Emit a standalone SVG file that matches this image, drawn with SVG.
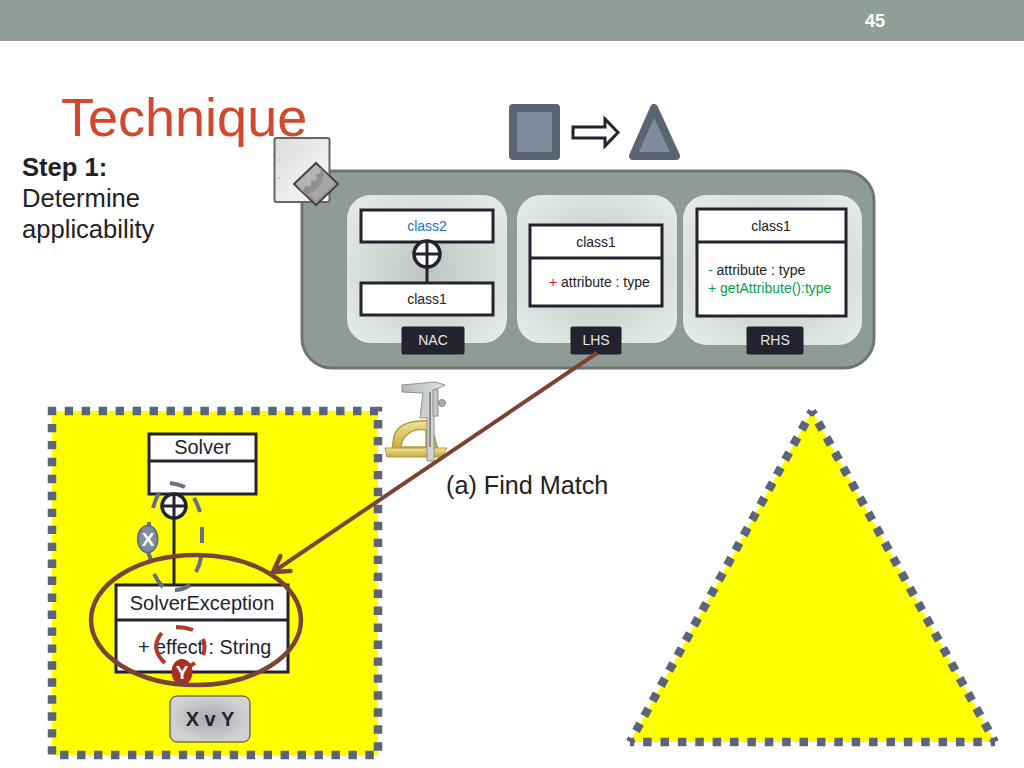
<svg xmlns="http://www.w3.org/2000/svg" width="1024" height="768" viewBox="0 0 1024 768">
<style>
text{font-family:"Liberation Sans",Arial,sans-serif;fill:#222}
.uml{fill:#fff;stroke:#23232f;stroke-width:3}
.t12{font-size:14px;text-anchor:middle}
.panel{fill:url(#pg)}
.tag{fill:#23232f;stroke:#23232f}
.tagt{font-size:14px;fill:#e8e8e8;text-anchor:middle}
.big{font-size:20px;fill:#23232f}
.dot{fill:#fff;stroke:#23232f;stroke-width:3.5}
.ln{stroke:#23232f;stroke-width:3;fill:none}
.dash{stroke:#5b6478;stroke-width:8.5;fill:none;stroke-dasharray:8.5 8.69;stroke-dashoffset:4.25}
.gy{fill:none;stroke:#667082;stroke-width:4}
.rd{fill:none;stroke:#b03a2a;stroke-width:4}
</style>
<defs>
<radialGradient id="pg" cx=".5" cy=".5" r=".65"><stop offset="0" stop-color="#bcc6c0"/><stop offset="1" stop-color="#e6ebe8"/></radialGradient>
<linearGradient id="paper" x1="0" x2="1" y1="0" y2="1"><stop offset="0" stop-color="#dcdcdc"/><stop offset="1" stop-color="#fafafa"/></linearGradient>
<radialGradient id="btn"><stop offset="0" stop-color="#a9a9ad"/><stop offset="1" stop-color="#d2d2d4"/></radialGradient>
<linearGradient id="gold" x1="0" x2="0" y1="0" y2="1"><stop offset="0" stop-color="#efe39a"/><stop offset="1" stop-color="#c4a93c"/></linearGradient>
<linearGradient id="steel" x1="0" x2="1" y1="0" y2="0"><stop offset="0" stop-color="#b5b9b8"/><stop offset="1" stop-color="#dfe2e2"/></linearGradient>
<marker id="ah" markerUnits="userSpaceOnUse" markerWidth="22" markerHeight="24" refX="18" refY="12" orient="auto"><path d="M3 3L18 12L3 21" fill="none" stroke="#7a4434" stroke-width="4.5" stroke-linecap="round"/></marker>
</defs>

<g id="header"><rect width="1024" height="41" fill="#929f98"/><text x="875" y="27" font-size="18" font-weight="bold" text-anchor="middle" style="fill:#fff">45</text></g>
<g id="title"><text x="61" y="136" font-size="54" style="fill:#d0492f">Technique</text></g>
<g id="step"><text x="22" y="176" font-size="25.600" font-weight="bold">Step 1:</text><text x="22" y="207" font-size="25.600">Determine</text><text x="22" y="238" font-size="25.600">applicability</text></g>

<g id="main-panel"><rect x="302" y="171" width="572" height="197" rx="30" fill="#8e9c95" stroke="#6c7670" stroke-width="3"/></g>

<g id="doc-icon">
<rect x="274.500" y="138" width="55" height="64" rx="2" fill="url(#paper)" stroke="#666" stroke-width="2"/>
<circle cx="279" cy="160" r="1" fill="#bbb"/><circle cx="279" cy="178" r="1" fill="#bbb"/>
<path d="M316 163L338 184L316 205L294 184Z" fill="#b4b4b4" stroke="#444" stroke-width="2"/>
<path d="M320 167L321 173L316 175L317 180L311 181L311 186L305 186L303 191L298 188L316 203L336 184Z" fill="#8f8f8f"/>
<path d="M324 172C323 182 318 190 309 194L316 201L335 184Z" fill="#a6a6a6"/>
</g>

<g id="shape-rect"><rect x="513" y="108" width="43" height="48" fill="#7f8c9e" stroke="#5b6472" stroke-width="8" stroke-linejoin="round"/></g>
<g id="shape-arrow"><path d="M573 127H605V119L618 132.500L605 146V138H573Z" fill="#fff" stroke="#23232f" stroke-width="3"/></g>
<g id="shape-tri"><path d="M654 108L676 156H633Z" fill="#7f8c9e" stroke="#5b6472" stroke-width="8" stroke-linejoin="round"/></g>

<g id="nac">
<rect class="panel" x="347" y="195" width="160" height="148" rx="24"/>
<rect class="uml" x="361" y="210" width="132" height="32"/>
<text class="t12" x="427" y="231" style="fill:#1d70b8">class2</text>
<rect class="uml" x="361" y="283" width="132" height="32"/>
<text class="t12" x="427" y="304">class1</text>
<path class="ln" d="M427 267V283"/>
<circle class="dot" cx="427" cy="254" r="13"/><path class="ln" d="M414 254H440M427 241V267"/>
<rect class="tag" x="402" y="327" width="62" height="27" rx="1"/><text class="tagt" x="433" y="345">NAC</text>
</g>

<g id="lhs">
<rect class="panel" x="517" y="195" width="160" height="148" rx="24"/>
<rect class="uml" x="530" y="225" width="132" height="81"/>
<path class="ln" d="M530 258H662"/>
<text class="t12" x="596" y="247">class1</text>
<text x="549" y="287" font-size="14"><tspan style="fill:#e01030">+</tspan> attribute : type</text>
<rect class="tag" x="571" y="327" width="50" height="27" rx="1"/><text class="tagt" x="596" y="345">LHS</text>
</g>

<g id="rhs">
<rect class="panel" x="683" y="195" width="179" height="150" rx="24"/>
<rect class="uml" x="697" y="209" width="149" height="107"/>
<path class="ln" d="M697 242H846"/>
<text class="t12" x="771" y="231">class1</text>
<text x="708" y="275" font-size="14"><tspan style="fill:#00a050">-</tspan> attribute : type</text>
<text x="708" y="293" font-size="14" style="fill:#00a050">+ getAttribute():type</text>
<rect class="tag" x="747" y="327" width="56" height="27" rx="1"/><text class="tagt" x="775" y="345">RHS</text>
</g>

<g id="caliper-icon">
<path d="M392 450L394 436C398 424 412 420 430 421L438 450Z" fill="url(#gold)" stroke="#b59a38" stroke-width="1.500"/>
<path d="M401 447C402 434 414 428 426 430V447Z" fill="#fff" stroke="#b59a38" stroke-width="1.500"/>
<path d="M385 448H447L442 457H387Z" fill="url(#gold)" stroke="#b59a38" stroke-width="1"/>
<path d="M402 385L435 382L445 385L437 389H434V461H427V418H420L423 393L402 392Z" fill="url(#steel)" stroke="#8d9191" stroke-width="1"/>
<circle cx="442" cy="403" r="3.500" fill="#aaa" stroke="#888"/>
<rect x="433" y="390" width="5" height="26" fill="#c4c7c7" stroke="#8d9191"/>
<path d="M430 392V447" stroke="#8a8e8e" stroke-width="2"/>
</g>

<g id="a-label"><text x="446" y="494" font-size="25.200">(a) Find Match</text></g>

<g id="left-box">
<rect x="52" y="411" width="326" height="344" fill="#ff0"/>
<rect class="dash" x="52" y="411" width="326" height="344" style="stroke-dasharray:8.400 8.560;stroke-dashoffset:4.200"/>
<rect x="149" y="434" width="107" height="60" fill="#fff" stroke="#23232f" stroke-width="3"/>
<path class="ln" d="M149 461H256"/>
<text class="big" x="202.500" y="454" text-anchor="middle">Solver</text>
<path class="ln" d="M174 519V585"/>
<circle class="dot" cx="174" cy="506" r="12"/><path class="ln" d="M162 506H186M174 494V518" stroke-width="2.500"/>
<rect x="116" y="585" width="172" height="87" fill="#fff" stroke="#23232f" stroke-width="3"/>
<path class="ln" d="M116 620H288"/>
<text class="big" x="202" y="610" text-anchor="middle">SolverException</text>
<text class="big" x="138" y="654" style="font-size:19.800px">+ effect : String</text>
<path class="gy" d="M170 483Q178 484 185 487M159 493Q155 500 153 508M194 498Q198 505 200 512M202 527V543M201 557Q200 565 196 572M154 574Q158 582 163 587M175 590Q183 590 190 585M149 522V527M148 552L151 560"/>
<ellipse cx="147.700" cy="539" rx="10" ry="13.500" fill="#7f8c9e" stroke="#5b6478" stroke-width="1.500"/>
<text x="148" y="546" font-size="19" font-weight="bold" text-anchor="middle" style="fill:#fff">X</text>
<path class="rd" d="M161.700 633Q156 640 156 647Q157 656 165 663M176 627Q185 627 193 630M203 639Q206 647 203 655M190 666L195 663"/>
<ellipse cx="182" cy="672" rx="10.500" ry="13" fill="#a9301f"/>
<text x="182" y="679" font-size="19" font-weight="bold" text-anchor="middle" style="fill:#fff">Y</text>
<rect x="170" y="696" width="80" height="46" rx="7" fill="url(#btn)" stroke="#3a3a30" stroke-width="1"/>
<text x="210" y="726" font-size="20" font-weight="bold" text-anchor="middle" style="fill:#23232f">X v Y</text>
</g>

<g id="right-tri">
<path d="M812 411L995 742H630Z" fill="#ff0"/>
<path class="dash" d="M812 411L995 742" style="stroke-dasharray:8.500 8.690"/>
<path class="dash" d="M812 411L630 742" style="stroke-dasharray:8.500 8.690"/>
<path class="dash" d="M630 742H995" style="stroke-dasharray:8.500 8.880"/>
</g>

<g id="connectors">
<ellipse cx="196" cy="620" rx="105" ry="65" fill="none" stroke="#7a4434" stroke-width="4.500"/>
<path d="M597 353L273 572" fill="none" stroke="#7a4434" stroke-width="4" marker-end="url(#ah)"/>
</g>
</svg>
